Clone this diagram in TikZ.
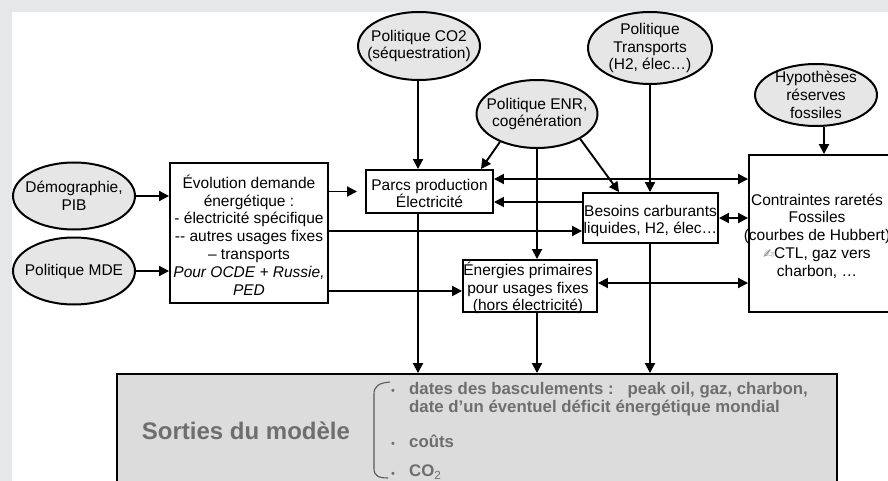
\documentclass[tikz,border=0pt]{standalone}
\usepackage{fontspec}
\setmainfont{Liberation Sans}
\newfontfamily\symfont{DejaVu Sans}
\usetikzlibrary{shapes.geometric,arrows.meta,calc}
\definecolor{bggray}{HTML}{E6E7E9}
\definecolor{ellfill}{HTML}{E6E6E6}
\definecolor{outfill}{HTML}{DCDCDC}
\definecolor{outtext}{HTML}{6E6E6E}
\begin{document}
\begin{tikzpicture}[x=1pt,y=-1pt,
  ell/.style={ellipse, draw=black, line width=2pt, fill=ellfill, inner sep=0pt},
  box/.style={rectangle, draw=black, line width=1.9pt, fill=white, inner sep=0pt},
  txt/.style={align=center, inner sep=0pt, font=\fontsize{15.5}{17.8}\selectfont},
  arr/.style={line width=1.9pt, -{Triangle[length=10pt,width=10pt]}},
  darr/.style={line width=1.9pt, {Triangle[length=10pt,width=10pt]}-{Triangle[length=10pt,width=10pt]}},
  outl/.style={text=outtext, inner sep=0pt, font=\bfseries\fontsize{16.8}{18}\selectfont}
]
\fill[bggray] (0,0) rectangle (888,481);
\fill[white] (12,12) rectangle (888,481);
\useasboundingbox (0,0) rectangle (888,481);

% ellipses
\node[ell, minimum width=122pt, minimum height=67pt,
  label={[txt]center:Démographie,\\PIB}] (demo) at (74,196) {};
\node[ell, minimum width=122pt, minimum height=67pt,
  label={[txt]center:Politique MDE}] (mde) at (74,271) {};
\node[ell, minimum width=122pt, minimum height=68pt,
  label={[txt]center:Politique CO2\\(séquestration)}] (co2) at (419,46) {};
\node[ell, minimum width=121pt, minimum height=68pt,
  label={[txt]center:Politique ENR,\\cogénération}] (enr) at (537,114) {};
\node[ell, minimum width=124pt, minimum height=72pt,
  label={[txt]center:Politique\\Transports\\(H2, élec…)}] (transp) at (650,48) {};
\node[ell, minimum width=122pt, minimum height=62pt,
  label={[txt]center:Hypothèses\\réserves\\fossiles}] (hyp) at (816,95) {};

% boxes
\node[box, minimum width=158pt, minimum height=140pt] (evol) at (249,233) {};
\node[txt] at (249,235) {Évolution demande\\énergétique :\\- électricité spécifique\\{-}{-} autres usages fixes\\– transports\\\textit{Pour OCDE + Russie,}\\\textit{PED}};
\node[box, minimum width=127pt, minimum height=43pt] (parcs) at (429.5,191.5) {};
\node[txt] at (429.5,193.5) {Parcs production\\Électricité};
\node[box, minimum width=135pt, minimum height=50pt] (bes) at (650.5,218) {};
\node[txt] at (650.5,221) {Besoins carburants\\liquides, H2, élec…};
\node[box, minimum width=134pt, minimum height=52pt] (energ) at (530,286) {};
\node[txt] at (528,288) {Énergies primaires\\pour usages fixes\\(hors électricité)};
\node[box, minimum width=170pt, minimum height=157pt] (contr) at (834,233.5) {};
\node[txt] at (817,236) {Contraintes raretés\\Fossiles\\(courbes de Hubbert)\\{\symfont\fontsize{13}{14}\selectfont\textcolor{gray}{✍}}CTL, gaz vers\\charbon, …};

% output box
\node[rectangle, draw=black, line width=1.9pt, fill=outfill, minimum width=720pt, minimum height=116pt, inner sep=0pt] (sorties) at (477,432) {};
\node[text=outtext, inner sep=0pt, font=\bfseries\fontsize{24}{28}\selectfont] at (246,431) {Sorties du modèle};
\draw[line width=1.1pt, draw=outtext!80!black] (390,382) .. controls (379,383) and (374,386) .. (374,394) -- (374,469) .. controls (374,476) and (379,478) .. (388,478);
\node[text=outtext, inner sep=0pt, font=\fontsize{11}{12}\selectfont] at (393,392) {•};
\node[text=outtext, inner sep=0pt, font=\fontsize{11}{12}\selectfont] at (393,445) {•};
\node[text=outtext, inner sep=0pt, font=\fontsize{11}{12}\selectfont] at (393,475) {•};
\node[outl, anchor=mid west] at (409,392) {dates des basculements :\ \ \ peak oil, gaz, charbon,};
\node[outl, anchor=mid west] at (409,410) {date d’un éventuel déficit énergétique mondial};
\node[outl, anchor=mid west] at (409,445) {coûts};
\node[outl, anchor=mid west] at (409,474) {CO{\mdseries\textsubscript{2}}};

% helper coordinates
\coordinate (yEB) at (0,231);
\coordinate (yEE) at (0,291);
\coordinate (yPC) at (0,179);
\coordinate (yBP) at (0,202);
\coordinate (yEC) at (0,283);
\coordinate (xP) at (418,0);

% connectors
\draw[arr] (demo.east) -- (demo.east -| evol.west);
\draw[arr] (mde.east) -- (mde.east -| evol.west);
\draw[arr, shorten >=8pt] (evol.east |- parcs.west) -- (parcs.west);
\draw[arr] (evol.east |- yEB) -- (bes.west |- yEB);
\draw[arr] (evol.east |- yEE) -- (energ.west |- yEE);
\draw[arr] (co2.south -| xP) -- (parcs.north -| xP);
\draw[arr] (enr.217) -- ($(parcs.north east)+(-13,0)$);
\draw[arr] (enr.south) -- (enr.south |- energ.north);
\draw[arr] (enr.-30) -- ($(bes.north west)+(37,0)$);
\draw[arr] (transp.south) -- (transp.south |- bes.north);
\draw[arr] (hyp.south -| 824,0) -- (contr.north -| 824,0);
\draw[darr] (parcs.east |- yPC) -- (contr.west |- yPC);
\draw[arr] (bes.west |- yBP) -- (parcs.east |- yBP);
\draw[darr] (bes.east) -- (bes.east -| contr.west);
\draw[darr] (energ.east |- yEC) -- (contr.west |- yEC);
\draw[arr] (parcs.south -| xP) -- (sorties.north -| xP);
\draw[arr] (energ.south -| enr.south) -- (sorties.north -| enr.south);
\draw[arr] (bes.south -| transp.south) -- (sorties.north -| transp.south);
\end{tikzpicture}
\end{document}
